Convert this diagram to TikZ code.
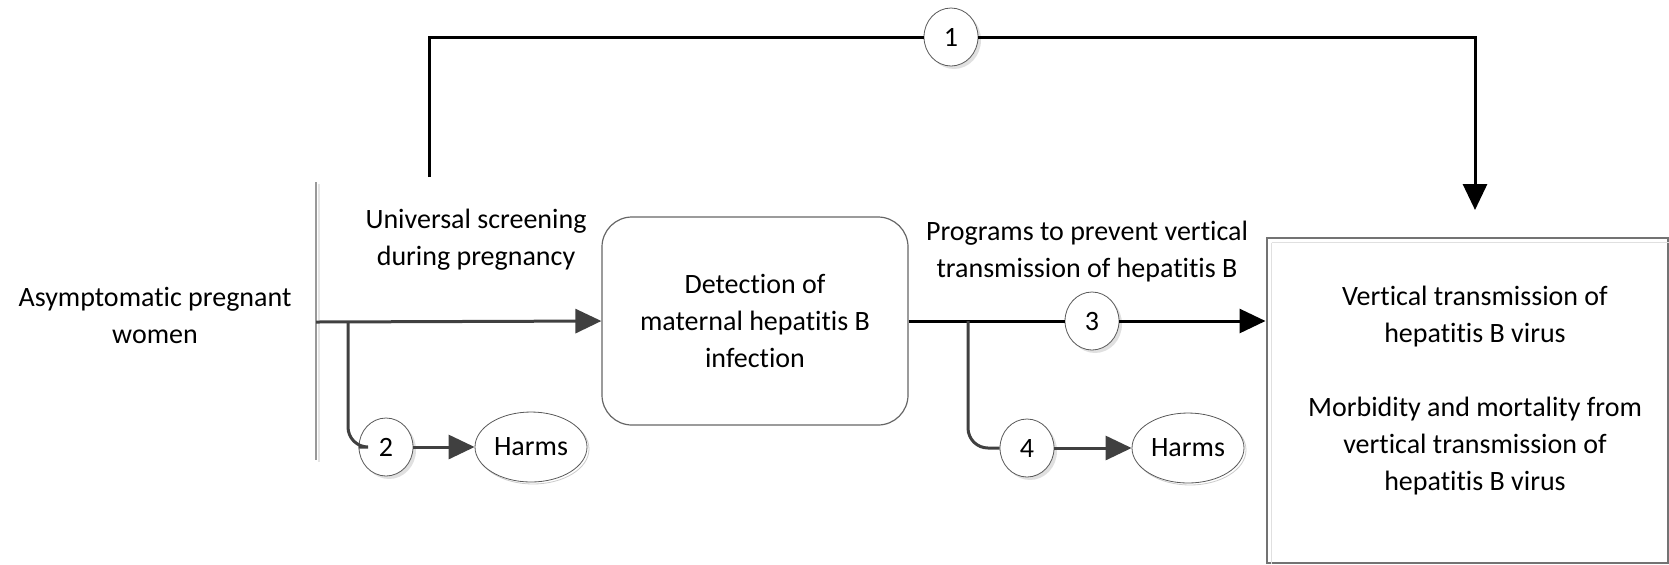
\documentclass[tikz,border=0pt]{standalone}
\usepackage{fontspec}
\setmainfont{Carlito}[RawFeature = -liga, RawFeature = -clig,
    RawFeature = -dlig, RawFeature = -rlig, RawFeature = -calt]
\usetikzlibrary{arrows.meta,shapes.geometric,shadows}

\begin{document}
\begin{tikzpicture}[
    x = 0.5pt, y = -0.5pt,
    font = \fontsize{14}{18.5}\selectfont,
    every node/.style = {align = center},
    flow/.style = {line width = 1.5pt, black},
    gflow/.style = {line width = 1.5pt, black!75},
    tip/.style = {-{Triangle[length = 13pt, width = 12pt]}},
    num/.style = {ellipse, draw = black!65, fill = white, inner sep = 0pt,
        minimum width = 27pt, minimum height = 29pt,
        drop shadow = {shadow xshift = 1.5pt, shadow yshift = -1.5pt,
            fill = black!12, opacity = 1}},
    harm/.style = {ellipse, draw = black!65, fill = white, inner sep = 0pt,
        minimum width = 56pt, minimum height = 35pt,
        drop shadow = {shadow xshift = 1pt, shadow yshift = -1pt,
            draw = black!20, fill = white, opacity = 1}},
    stage/.style = {rectangle, rounded corners = 15pt, draw = black!60,
        line width = 0.6pt, minimum width = 153pt, minimum height = 104pt},
    outbox/.style = {rectangle, draw = black!55, line width = 1pt,
        minimum width = 200.5pt, minimum height = 162.5pt}]

\useasboundingbox (0,0) rectangle (1669,564);

% population
\node (pop) at (155,315) {Asymptomatic pregnant\\women};
\draw[black!40, line width = 0.8pt] (316,182) -- (316,460);
\draw[black!10, line width = 0.8pt] (319,184) -- (319,462);

% boxes
\node[stage] (detect) at (755,321) {Detection of\\maternal hepatitis B\\infection};
\node[outbox] (outcome) at (1467,400) {};
\draw[black!12, line width = 0.8pt]
    ([shift = {(6,6)}]outcome.north west) -- ([shift = {(6,0)}]outcome.south west)
    ([shift = {(6,6)}]outcome.north west) -- ([shift = {(0,6)}]outcome.north east);
\node (outtext) at (1475,391) {Vertical transmission of\\hepatitis B virus\\[18.5pt]
    Morbidity and mortality from\\vertical transmission of\\hepatitis B virus};

% labels
\node (screen) at (476,240) {Universal screening\\during pregnancy};
\node (prevent) at (1087,252) {Programs to prevent vertical\\transmission of hepatitis B};

% key questions
\node[num] (kq1) at (951,37) {1};
\node[num] (kq3) at (1092,321) {3};
\node[num] (kq2) at (386,447) {2};
\node[num] (kq4) at (1027,448) {4};
\node[harm] (harm1) at (531,447) {Harms};
\node[harm] (harm2) at (1188,448) {Harms};

\coordinate (start1) at (429,177);
\coordinate (end1) at (1475,210);
\coordinate (startmain) at (316,322);
\coordinate (branch2) at (348,322);
\coordinate (branch4) at (968,321);

% overarching arrow
\draw[flow] (start1) |- (kq1);
\draw[flow, tip] (kq1) -| (end1);

% screening
\draw[gflow, tip] (startmain) -- (detect.west);
\draw[gflow, rounded corners = 10pt] (branch2) |- (kq2.west);
\draw[gflow, tip] (kq2) -- (harm1);

% treatment
\draw[flow] (detect.east) -- (kq3);
\draw[flow, tip] (kq3) -- (kq3 -| outcome.west);
\draw[gflow, rounded corners = 10pt] (branch4) |- (kq4.west);
\draw[gflow, tip] (kq4) -- (harm2);

\end{tikzpicture}
\end{document}
